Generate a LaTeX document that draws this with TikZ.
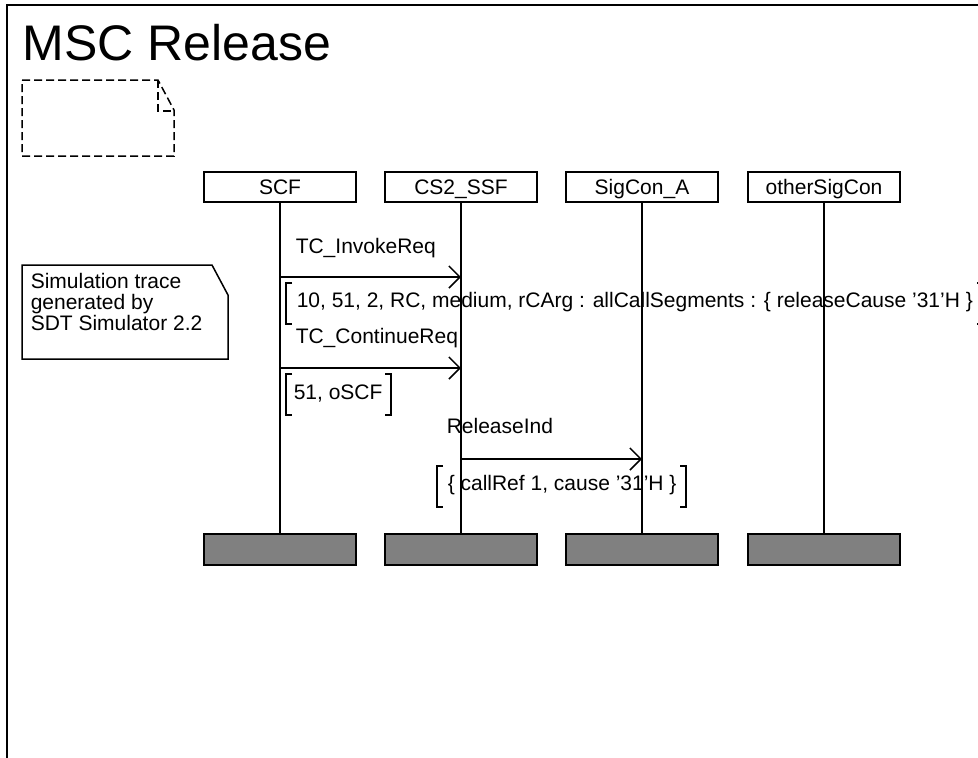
\documentclass[tikz,border=0pt]{standalone}
\usepackage{fontspec}
\setmainfont{Liberation Sans}
\usetikzlibrary{arrows.meta}
\definecolor{endgray}{HTML}{808080}
\begin{document}
\begin{tikzpicture}[x=1pt,y=-1pt,line width=1.5pt,
  every node/.style={inner sep=0pt,font=\fontsize{21}{21}\selectfont},
  head/.style={draw,minimum width=152pt,minimum height=30pt,text height=15pt,text depth=0pt},
  endbox/.style={draw,fill=endgray,minimum width=152pt,minimum height=31pt},
  lbl/.style={anchor=base west},
  msg/.style={-{Straight Barb[length=11pt,width=22pt]}},
  notedash/.style={dash pattern=on 8pt off 4pt}]
\useasboundingbox (0,0) rectangle (978,758);
\clip (0,0) rectangle (978,758);
% frame
\draw (7,5) rectangle (1000,800);
\node[anchor=base west,font=\fontsize{50}{60}\selectfont] (title) at (22,60) {MSC Release};
% dashed text symbol
\draw[notedash] (22,80) -- (158,80) -- (174,110) -- (174,156) -- (22,156) -- cycle;
\draw[notedash] (158,80) -- (158,111) -- (174,111);
% comment note
\draw (22,265) -- (212,265) -- (228,295) -- (228,359) -- (22,359) -- cycle;
\node[lbl] (note1) at (30,288) {Simulation trace};
\node[lbl] (note2) at (30,309) {generated by};
\node[lbl] (note3) at (30,330) {SDT Simulator 2.2};
% instance heads
\node[head] (scf) at (280,187) {SCF};
\node[head] (ssf) at (461,187) {CS2\_SSF};
\node[head] (sca) at (642,187) {SigCon\_A};
\node[head] (osc) at (824,187) {otherSigCon};
% instance ends
\node[endbox] (scfend) at (280,549.5) {};
\node[endbox] (ssfend) at (461,549.5) {};
\node[endbox] (scaend) at (642,549.5) {};
\node[endbox] (oscend) at (824,549.5) {};
% lifelines
\draw (scf.south) -- (scfend.north);
\draw (ssf.south) -- (ssfend.north);
\draw (sca.south) -- (scaend.north);
\draw (osc.south) -- (oscend.north);
% message levels
\coordinate (y1) at (0,277);
\coordinate (y2) at (0,368);
\coordinate (y3) at (0,459);
% message 1
\node[lbl] (m1) at (295,253) {TC\_InvokeReq};
\draw[msg] (scf |- y1) -- (ssf |- y1);
\node[lbl] (p1) at (296,307) {10, 51, 2, RC, medium, rCArg : allCallSegments : \{ releaseCause ’31’H \}};
\draw (292,283) -- (286,283) -- (286,324) -- (292,324);
\draw (977,283) -- (983,283) -- (983,324) -- (977,324);
% message 2
\node[lbl] (m2) at (295,343) {TC\_ContinueReq};
\draw[msg] (scf |- y2) -- (ssf |- y2);
\node[lbl] (p2) at (293,399) {51, oSCF};
\draw (292,374) -- (286,374) -- (286,415) -- (292,415);
\draw (385,374) -- (391,374) -- (391,415) -- (385,415);
% message 3
\node[lbl] (m3) at (446,433) {ReleaseInd};
\draw[msg] (ssf |- y3) -- (sca |- y3);
\node[lbl] (p3) at (447,490) {\{ callRef 1, cause ’31’H \}};
\draw (443,466) -- (437,466) -- (437,507) -- (443,507);
\draw (680,466) -- (686,466) -- (686,507) -- (680,507);
\end{tikzpicture}
\end{document}
